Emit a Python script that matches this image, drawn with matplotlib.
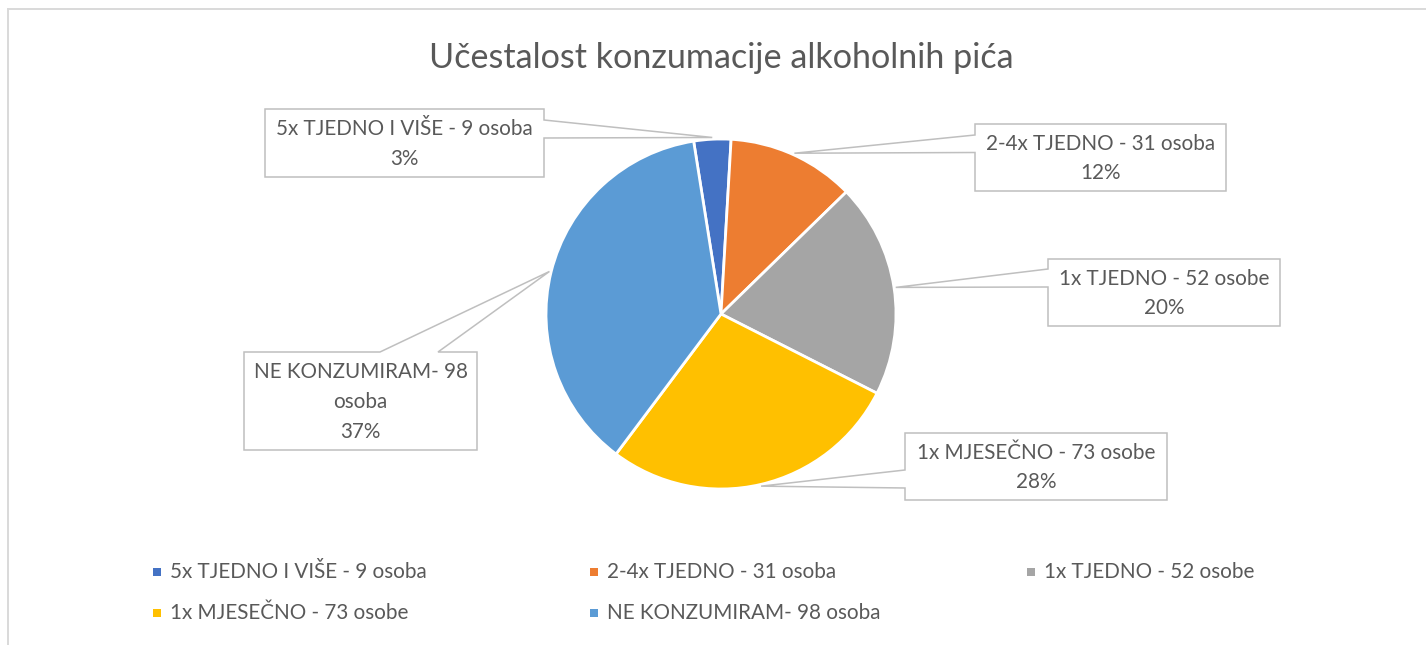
import matplotlib
matplotlib.use('Agg')
import matplotlib.pyplot as plt
from matplotlib.patches import Polygon, Rectangle
from matplotlib.lines import Line2D
import numpy as np
import textwrap

plt.rcParams['font.family'] = ['Lato', 'DejaVu Sans']

# ---------------- data ----------------
title = 'Učestalost konzumacije alkoholnih pića'
categories = ['5x TJEDNO I VIŠE - 9 osoba', '2-4x TJEDNO - 31 osoba',
              '1x TJEDNO - 52 osobe', '1x MJESEČNO - 73 osobe',
              'NE KONZUMIRAM- 98 osoba']
counts = [9, 31, 52, 73, 98]
colors = ['#4472C4', '#ED7D31', '#A5A5A5', '#FFC000', '#5B9BD5']

# ---------------- layout ----------------
W, H = 1426, 645
DPI = 100
TXT = '#595959'
LINE = '#BFBFBF'

fig = plt.figure(figsize=(W / DPI, H / DPI), dpi=DPI)
ax = fig.add_axes([0, 0, 1, 1])


def Y(y):
    return H - y


PIE_CX, PIE_CY, PIE_R = 721, 314, 175
wedges, _ = ax.pie(counts, colors=colors, startangle=99, counterclock=False,
                   radius=PIE_R, center=(PIE_CX, Y(PIE_CY)),
                   wedgeprops=dict(edgecolor='white', linewidth=2.0))
ax.set_xlim(0, W)
ax.set_ylim(0, H)
ax.set_aspect('auto')
ax.axis('off')

renderer = fig.canvas.get_renderer()


def fit(text, target, probe=20):
    t = ax.text(0, 0, text, fontsize=probe)
    w = t.get_window_extent(renderer).width
    t.remove()
    return probe * target / w


fs_title = fit(title, 587)
fs_label = fit(categories[0], 257)

# chart border (only top and left visible)
ax.add_line(Line2D([7.5, 7.5], [Y(8.5), -20], color='#D9D9D9', lw=1.4, clip_on=False))
ax.add_line(Line2D([7.5, W + 20], [Y(8.5), Y(8.5)], color='#D9D9D9', lw=1.4, clip_on=False))

# title
ax.text(721, Y(68), title, ha='center', va='baseline', fontsize=fs_title, color=TXT)

# data callouts
BOXES = [
    dict(rect=(265, 109, 544, 177), side='right', base=(120, 138)),
    dict(rect=(975, 124, 1226, 191), side='left', base=(135, 152.5)),
    dict(rect=(1048, 259, 1280, 326), side='left', base=(269, 287)),
    dict(rect=(905, 433, 1167, 500), side='left', base=(470, 488)),
    dict(rect=(244, 352, 477, 450), side='top', base=(380, 438)),
]
WRAP = [40, 40, 40, 40, 17]
total = sum(counts)

for w, lab, c, box, wrap in zip(wedges, categories, counts, BOXES, WRAP):
    th = np.deg2rad((w.theta1 + w.theta2) / 2)
    tx = w.center[0] + w.r * 1.01 * np.cos(th)
    ty = H - (w.center[1] + w.r * 1.01 * np.sin(th))  # screen y
    x0, y0, x1, y1 = box['rect']
    a, b = box['base']
    if box['side'] == 'right':
        pts = [(x0, y0), (x1, y0), (x1, a), (tx, ty), (x1, b), (x1, y1), (x0, y1)]
    elif box['side'] == 'left':
        pts = [(x0, y0), (x1, y0), (x1, y1), (x0, y1), (x0, b), (tx, ty), (x0, a)]
    else:
        pts = [(x0, y0), (a, y0), (tx, ty), (b, y0), (x1, y0), (x1, y1), (x0, y1)]
    poly = Polygon([(px, Y(py)) for px, py in pts], closed=True,
                   facecolor='white', edgecolor=LINE, lw=1.1, zorder=5)
    ax.add_patch(poly)
    pct = round(100 * c / total)
    txt = textwrap.fill(lab, width=wrap) + f'\n{pct}%'
    ax.text((x0 + x1) / 2, Y((y0 + y1) / 2 + 1), txt, ha='center', va='center',
            multialignment='center', fontsize=fs_label, color=TXT,
            linespacing=1.6, zorder=6)

# legend (Excel style, row-wise fill)
for i, (lab, col) in enumerate(zip(categories, colors)):
    r, cc = divmod(i, 3)
    x = 153 + 437 * cc
    y = 572 + 41 * r
    ax.add_patch(Rectangle((x, Y(y) - 4), 8, 8, facecolor=col, edgecolor='none'))
    ax.text(x + 17, Y(y), lab, ha='left', va='center', fontsize=fs_label, color=TXT)

fig.savefig('out.png', dpi=DPI, facecolor='white')
